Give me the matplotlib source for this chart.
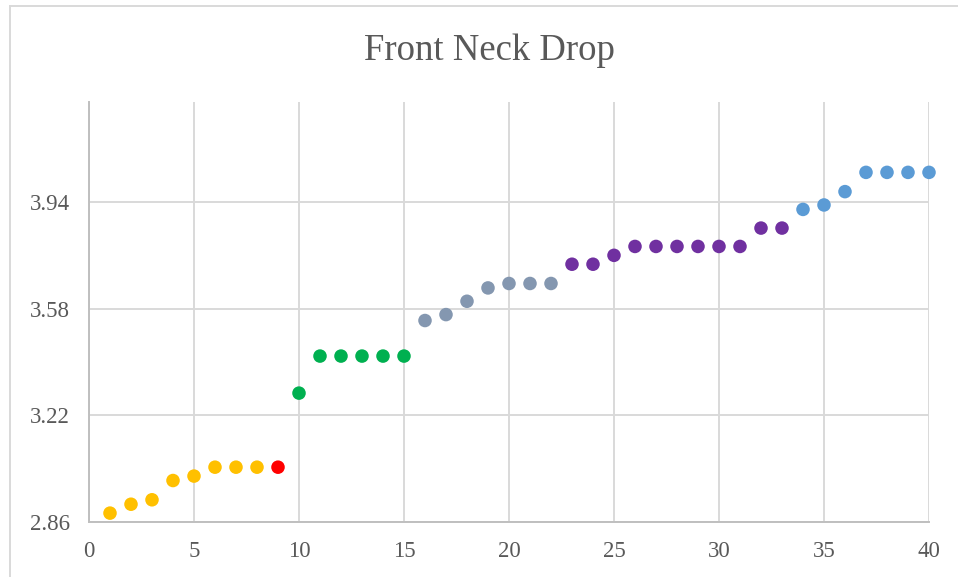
import matplotlib
matplotlib.use("Agg")
import matplotlib.pyplot as plt
from matplotlib.lines import Line2D

# measurement index and front neck drop values
sample = list(range(1, 41))
neck_drop = [2.89, 2.92, 2.935, 3.00, 3.015, 3.045, 3.045, 3.045, 3.045, 3.295,
             3.42, 3.42, 3.42, 3.42, 3.42, 3.54, 3.56, 3.605, 3.65, 3.665,
             3.665, 3.665, 3.73, 3.73, 3.76, 3.79, 3.79, 3.79, 3.79, 3.79,
             3.79, 3.852, 3.852, 3.915, 3.93, 3.975, 4.04, 4.04, 4.04, 4.04]
# size group each sample belongs to
group = ["a"] * 8 + ["b"] + ["c"] * 6 + ["d"] * 7 + ["e"] * 11 + ["f"] * 7
group_colors = {"a": "#FFC000", "b": "#FF0000", "c": "#00B050",
                "d": "#8497B0", "e": "#7030A0", "f": "#5B9BD5"}

y_ticks = [2.86, 3.22, 3.58, 3.94]
x_ticks = [0, 5, 10, 15, 20, 25, 30, 35, 40]

plt.rcParams["font.family"] = ["Liberation Serif", "DejaVu Serif"]
text_color = "#595959"

fig = plt.figure(figsize=(9.58, 5.77), dpi=100)
ax = fig.add_axes([89 / 958, 1 - 522 / 577, (929 - 89) / 958, (522 - 102) / 577])

ax.scatter(sample, neck_drop, c=[group_colors[g] for g in group],
           s=95, linewidths=0, zorder=3, clip_on=False)

ax.set_xlim(0, 40)
ax.set_ylim(2.86, 4.2775)
ax.set_xticks(x_ticks)
ax.set_yticks(y_ticks)
ax.set_yticklabels([f"{t:.2f}" for t in y_ticks])
ax.tick_params(length=0, labelsize=16.5, colors=text_color)
ax.tick_params(axis="y", pad=14)
ax.tick_params(axis="x", pad=14)

ax.grid(True, color="#D9D9D9", linewidth=1.4, zorder=0)
ax.set_axisbelow(True)
for side in ["top", "right"]:
    ax.spines[side].set_visible(False)
for side in ["left", "bottom"]:
    ax.spines[side].set_color("#BFBFBF")
    ax.spines[side].set_linewidth(1.4)

fig.text(489 / 958, 1 - 51 / 577, "Front Neck Drop", ha="center", va="center",
         fontsize=26.5, color=text_color)

# chart area border along the top and left edges
fig.add_artist(Line2D([10 / 958, 1], [1 - 5.5 / 577] * 2, color="#D9D9D9", linewidth=1.4))
fig.add_artist(Line2D([10 / 958] * 2, [0, 1 - 5.5 / 577], color="#D9D9D9", linewidth=1.4))

fig.savefig("out.png", dpi=100)
